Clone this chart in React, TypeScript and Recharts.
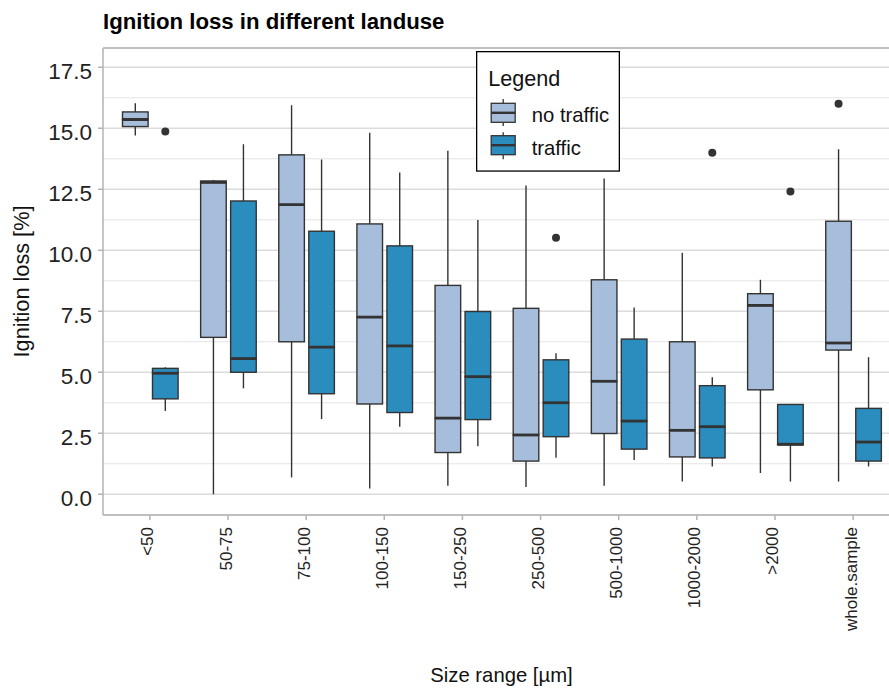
import React from "react"
import { ComposedChart, Bar, XAxis, YAxis, CartesianGrid, Legend } from "recharts"

const categories = ["<50", "50-75", "75-100", "100-150", "150-250", "250-500", "500-1000", "1000-2000", ">2000", "whole.sample"]

// no traffic
const noTrafficMin = [14.7, 0.0, 0.69, 0.24, 0.35, 0.3, 0.35, 0.52, 0.87, 0.52]
const noTrafficQ1 = [15.07, 6.43, 6.25, 3.7, 1.71, 1.36, 2.49, 1.53, 4.28, 5.91]
const noTrafficMedian = [15.36, 12.78, 11.87, 7.26, 3.12, 2.43, 4.63, 2.62, 7.74, 6.2]
const noTrafficQ3 = [15.67, 12.84, 13.91, 11.08, 8.56, 7.62, 8.79, 6.25, 8.22, 11.19]
const noTrafficMax = [16.03, 12.88, 15.94, 14.82, 14.08, 12.65, 12.94, 9.9, 8.79, 14.14]
const noTrafficOutlier = [null, null, null, null, null, null, null, null, null, 16.01]

// traffic
const trafficMin = [3.41, 4.34, 3.08, 2.77, 1.97, 1.5, 1.4, 1.14, 0.52, 1.14]
const trafficQ1 = [3.91, 5.0, 4.12, 3.35, 3.06, 2.36, 1.85, 1.49, 2.02, 1.36]
const trafficMedian = [4.96, 5.56, 6.03, 6.08, 4.82, 3.75, 3.0, 2.77, 2.05, 2.14]
const trafficQ3 = [5.16, 12.02, 10.78, 10.18, 7.49, 5.51, 6.36, 4.45, 3.68, 3.52]
const trafficMax = [5.21, 14.35, 13.72, 13.19, 11.24, 5.78, 7.65, 4.8, 3.68, 5.62]
const trafficOutlier = [14.87, null, null, null, null, 10.51, null, 14.0, 12.41, null]

const seriesNames = ["no traffic", "traffic"]
const seriesColors = ["#a6bddb", "#2b8cbe"]

const yTicks = [0, 2.5, 5, 7.5, 10, 12.5, 15, 17.5]
const yMinorTicks = [1.25, 3.75, 6.25, 8.75, 11.25, 13.75, 16.25]
const yDomain = [-0.85, 18.29]

const FONT = "'Liberation Sans', Arial, Helvetica, sans-serif"
const INK = "#333333"
const BORDER = "#b3b3b3"

const stats = [
  { key: "nt", min: noTrafficMin, q1: noTrafficQ1, med: noTrafficMedian, q3: noTrafficQ3, max: noTrafficMax, out: noTrafficOutlier },
  { key: "t", min: trafficMin, q1: trafficQ1, med: trafficMedian, q3: trafficQ3, max: trafficMax, out: trafficOutlier },
]

// stacked segments: base -> lower whisker -> lower box -> upper box -> upper whisker -> gap to outlier
const data = categories.map((category, i) => {
  const row: Record<string, any> = { category }
  stats.forEach((s) => {
    row[s.key + "Base"] = s.min[i]
    row[s.key + "Low"] = s.q1[i] - s.min[i]
    row[s.key + "BoxLow"] = s.med[i] - s.q1[i]
    row[s.key + "BoxHigh"] = s.q3[i] - s.med[i]
    row[s.key + "High"] = s.max[i] - s.q3[i]
    row[s.key + "Out"] = s.out[i] != null ? (s.out[i] as number) - s.max[i] : 0
  })
  return row
})

const Empty = () => <g />

const Whisker = (props: any) => {
  const { x, y, width, height } = props
  if (!height || height < 0.01) return <g />
  const cx = x + width / 2
  return <line x1={cx} x2={cx} y1={y} y2={y + height} stroke={INK} strokeWidth={1.4} />
}

const makeBoxLow = (color: string) => (props: any) => {
  const { x, y, width, height } = props
  if (!height || height < 0.01) return <g />
  return <rect x={x + 0.7} y={y} width={width - 1.4} height={height} fill={color} stroke={INK} strokeWidth={1.4} />
}

const makeBoxHigh = (color: string) => (props: any) => {
  const { x, y, width, height } = props
  return (
    <g>
      {height > 0.01 && (
        <rect x={x + 0.7} y={y} width={width - 1.4} height={height} fill={color} stroke={INK} strokeWidth={1.4} />
      )}
      <line x1={x + 0.7} x2={x + width - 0.7} y1={y + height} y2={y + height} stroke={INK} strokeWidth={2.8} />
    </g>
  )
}

const Outlier = (props: any) => {
  const { x, y, width, height } = props
  if (!height || height < 0.01) return <g />
  return <circle cx={x + width / 2} cy={y} r={4} fill={INK} />
}

const YTick = (props: any) => {
  const { x, y, payload } = props
  return (
    <text x={x} y={y} dy={11.5} textAnchor="end" fontSize={22.5} fill="#222" fontFamily={FONT}>
      {Number(payload.value).toFixed(1)}
    </text>
  )
}

const XTick = (props: any) => {
  const { x, y, payload } = props
  const tx = x + 3.5
  return (
    <text x={tx} y={y} transform={`rotate(-90, ${tx}, ${y})`} textAnchor="end" fontSize={17} fill="#222" fontFamily={FONT}>
      {payload.value}
    </text>
  )
}

const YTitle = (props: any) => {
  const vb = props.viewBox || { x: 0, y: 48, width: 103, height: 467 }
  const tx = vb.x + 29
  const ty = vb.y + vb.height / 2
  return (
    <text x={tx} y={ty} transform={`rotate(-90, ${tx}, ${ty})`} textAnchor="middle" fontSize={21.7} fill="#111" fontFamily={FONT}>
      Ignition loss [%]
    </text>
  )
}

const XTitle = (props: any) => {
  const vb = props.viewBox || { x: 103, y: 515, width: 797, height: 176 }
  return (
    <text x={vb.x + vb.width / 2} y={vb.y + 167} textAnchor="middle" fontSize={20.3} fill="#111" fontFamily={FONT}>
      Size range [µm]
    </text>
  )
}

const LegendBox = () => {
  const rows = [
    { top: 48, box: 52.3 },
    { top: 81.3, box: 84.7 },
  ]
  return (
    <svg width={145} height={122} style={{ display: "block" }}>
      <rect x={0.65} y={0.65} width={142.7} height={119.4} fill="#fff" stroke="#000" strokeWidth={1.3} />
      <text x={12.3} y={34.7} fontSize={21.6} fill="#111" fontFamily={FONT}>
        Legend
      </text>
      {seriesNames.map((name, i) => (
        <g key={name}>
          <line x1={27.2} x2={27.2} y1={rows[i].top} y2={rows[i].top + 27} stroke={INK} strokeWidth={1.3} />
          <rect x={15.2} y={rows[i].box} width={24} height={19} fill={seriesColors[i]} stroke={INK} strokeWidth={1.3} />
          <line x1={15.2} x2={39.2} y1={rows[i].box + 9.5} y2={rows[i].box + 9.5} stroke={INK} strokeWidth={2.4} />
          <text x={55.7} y={rows[i].box + 19} fontSize={20.3} fill="#111" fontFamily={FONT}>
            {name}
          </text>
        </g>
      ))}
    </svg>
  )
}

export default function App() {
  return (
    <div style={{ position: "fixed", left: 0, top: 0, width: 889, height: 691, overflow: "hidden", background: "#fff" }}>
      <svg width={889} height={40} style={{ position: "absolute", left: 0, top: 0 }}>
        <text x={103} y={28.5} fontSize={22.2} fontWeight="bold" fill="#000" fontFamily={FONT}>
          Ignition loss in different landuse
        </text>
      </svg>
      <div style={{ position: "absolute", left: 0, top: 0 }}>
        <ComposedChart
          width={900}
          height={691}
          data={data}
          margin={{ top: 48, right: 0, left: 0, bottom: 0 }}
          barSize={27}
          barGap={3}
          style={{ overflow: "hidden" }}
        >
          <CartesianGrid vertical={false} horizontalValues={yMinorTicks} stroke="#e4e4e4" strokeWidth={1.1} />
          <CartesianGrid vertical={false} stroke="#dcdcdc" strokeWidth={1.5} />
          <CartesianGrid vertical={false} horizontalValues={[yDomain[1]]} stroke={BORDER} strokeWidth={1.5} />
          <XAxis
            dataKey="category"
            interval={0}
            padding={{ left: 7.8, right: 7.8 }}
            height={176}
            tickSize={5}
            tickMargin={7}
            axisLine={{ stroke: BORDER, strokeWidth: 1.5 }}
            tickLine={{ stroke: BORDER, strokeWidth: 1.5 }}
            tick={<XTick />}
            label={{ content: XTitle }}
          />
          <YAxis
            type="number"
            domain={yDomain}
            allowDataOverflow
            ticks={yTicks}
            width={103}
            tickSize={5}
            tickMargin={6}
            axisLine={{ stroke: BORDER, strokeWidth: 1.5 }}
            tickLine={{ stroke: BORDER, strokeWidth: 1.5 }}
            tick={<YTick />}
            label={{ content: YTitle }}
          />
          <Legend
            layout="vertical"
            align="center"
            verticalAlign="middle"
            content={LegendBox}
            wrapperStyle={{ position: "absolute", left: 476, top: 51, width: 145, height: 122 }}
          />
          {stats.map((s, i) => [
            <Bar key={s.key + "Base"} dataKey={s.key + "Base"} stackId={s.key} shape={Empty} legendType="none" isAnimationActive={false} />,
            <Bar key={s.key + "Low"} dataKey={s.key + "Low"} stackId={s.key} shape={Whisker} legendType="none" isAnimationActive={false} />,
            <Bar key={s.key + "BoxLow"} dataKey={s.key + "BoxLow"} stackId={s.key} shape={makeBoxLow(seriesColors[i])} legendType="none" isAnimationActive={false} />,
            <Bar key={s.key + "BoxHigh"} dataKey={s.key + "BoxHigh"} stackId={s.key} shape={makeBoxHigh(seriesColors[i])} legendType="none" isAnimationActive={false} />,
            <Bar key={s.key + "High"} dataKey={s.key + "High"} stackId={s.key} shape={Whisker} legendType="none" isAnimationActive={false} />,
            <Bar key={s.key + "Out"} dataKey={s.key + "Out"} stackId={s.key} shape={Outlier} legendType="none" isAnimationActive={false} />,
          ])}
        </ComposedChart>
      </div>
    </div>
  )
}
